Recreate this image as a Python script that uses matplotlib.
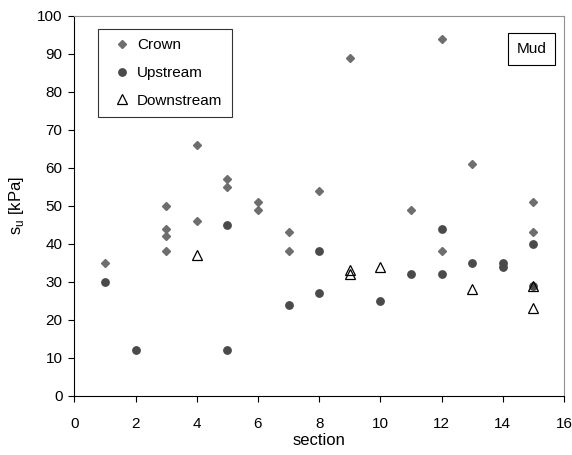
import matplotlib
matplotlib.use('Agg')
import matplotlib.pyplot as plt

plt.rcParams['font.family'] = ['Liberation Sans', 'DejaVu Sans']
plt.rcParams['mathtext.fontset'] = 'custom'
plt.rcParams['mathtext.rm'] = 'Liberation Sans'

# Crown
crown_x = [1, 3, 3, 3, 3, 4, 4, 5, 5, 6, 6, 7, 7, 8, 9, 11, 12, 12, 13, 15, 15]
crown_y = [35, 50, 44, 42, 38, 66, 46, 57, 55, 51, 49, 43, 38, 54, 89, 49, 94, 38, 61, 51, 43]

# Upstream
up_x = [1, 2, 5, 5, 7, 8, 8, 10, 11, 12, 12, 13, 14, 14, 15, 15]
up_y = [30, 12, 45, 12, 24, 38, 27, 25, 32, 44, 32, 35, 35, 34, 40, 29]

# Downstream
down_x = [4, 9, 9, 10, 13, 15, 15]
down_y = [37, 33, 32, 34, 28, 29, 23]

fig = plt.figure(figsize=(5.72, 4.55), dpi=100)
ax = fig.add_axes([0.130, 0.130, 0.856, 0.835])

ax.plot(crown_x, crown_y, 'D', color='#6e6e6e', ms=4.3, mec='#6e6e6e', label='Crown')
ax.plot(up_x, up_y, 'o', color='#4a4a4a', ms=5.3, mec='#4a4a4a', label='Upstream')
ax.plot(down_x, down_y, '^', mfc='none', mec='black', mew=0.9, ms=7.5, label='Downstream')

ax.set_xlim(0, 16)
ax.set_ylim(0, 100)
ax.set_xticks(range(0, 17, 2))
ax.set_yticks(range(0, 101, 10))
ax.tick_params(direction='out', length=4.5, width=0.8, labelsize=11, colors='black')
ax.tick_params(axis='x', pad=11)
ax.tick_params(axis='y', pad=4)
ax.xaxis.set_ticks_position('bottom')
ax.yaxis.set_ticks_position('left')
for s in ['top', 'right']:
    ax.spines[s].set_color('#909090')
for s in ['left', 'bottom']:
    ax.spines[s].set_color('black')

ax.set_xlabel('section', fontsize=12, labelpad=1)
ax.set_ylabel(r's$_\mathregular{u}$ [kPa]', fontsize=12, labelpad=8)

# legend box in the upper left, square corners
leg = ax.legend(loc='upper left', bbox_to_anchor=(0.048, 0.966), borderaxespad=0,
                fontsize=11, frameon=True, fancybox=False, labelspacing=0.9,
                handletextpad=0.05, borderpad=0.62, handlelength=1.9)
leg.get_frame().set_edgecolor('black')
leg.get_frame().set_linewidth(0.8)

ax.text(0.934, 0.913, 'Mud', transform=ax.transAxes, ha='center', va='center', fontsize=11,
        bbox=dict(boxstyle='square,pad=0.58', fc='white', ec='black', lw=0.8))

fig.savefig('out.png', dpi=100)
